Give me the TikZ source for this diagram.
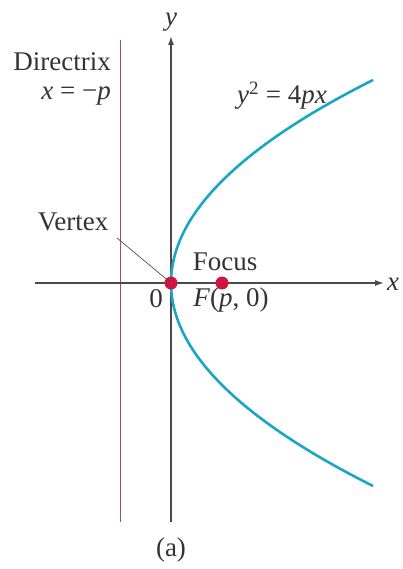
\documentclass[tikz,border=0pt]{standalone}
\usepackage{fontspec}
\setmainfont{Liberation Serif}
\usetikzlibrary{arrows.meta}
\definecolor{axisgray}{HTML}{4A4A4A}
\definecolor{dircol}{HTML}{A8506A}
\definecolor{parcol}{HTML}{18A6C2}
\definecolor{dotcol}{HTML}{D01540}
\newcommand{\vi}[1]{\textit{#1}}
\begin{document}
\begin{tikzpicture}[x=1pt,y=-1pt,
  axis/.style={draw=axisgray,line width=1.4pt,-{Latex[length=9pt,width=6pt]}},
  lbl/.style={font=\fontsize{27}{31}\selectfont,text=black!80,inner sep=0pt},
  dot/.style={circle,fill=dotcol,inner sep=0pt,minimum size=13pt}]
\useasboundingbox (0,0) rectangle (402,569);
% directrix
\coordinate (d1) at (120,40);
\coordinate (d2) at (120,522);
\draw[dircol,line width=1pt] (d1) -- (d2);
% axes
\coordinate (xs) at (35,283);
\coordinate (xe) at (384,283);
\coordinate (ys) at (171,522);
\coordinate (ye) at (171,36);
\draw[axis] (xs) -- (xe);
\draw[axis] (ys) -- (ye);
% parabola
\draw[parcol,line width=2.6pt,domain=-203:203,samples=120,variable=\t]
  plot ({171+(\t/14.2829)*(\t/14.2829)},{283-\t});
% points
\node[dot] (V) at (171,283) {};
\node[dot] (F) at (222,283) {};
% labels
\node[lbl,anchor=east] (dirA) at (111,62) {Directrix};
\node[lbl,anchor=east] (dirB) at (111,96) {\vi{x} = −\vi{p}};
\node[lbl] (ylab) at (171,22) {\vi{y}};
\node[lbl] (xlab) at (393,284) {\vi{x}};
\node[lbl] (eq) at (282,96) {\vi{y}\textsuperscript{2} = 4\vi{px}};
\node[lbl] (vtx) at (73,222) {Vertex};
\node[lbl] (foc) at (225,262) {Focus};
\node[lbl] (fp) at (231,300) {\vi{F}(\vi{p}, 0)};
\node[lbl] (zero) at (156,299) {0};
\node[lbl] (cap) at (171,550) {(a)};
\coordinate (lead) at (117,238);
\draw[axisgray,line width=0.7pt] (lead) -- (V.center);
\end{tikzpicture}
\end{document}
